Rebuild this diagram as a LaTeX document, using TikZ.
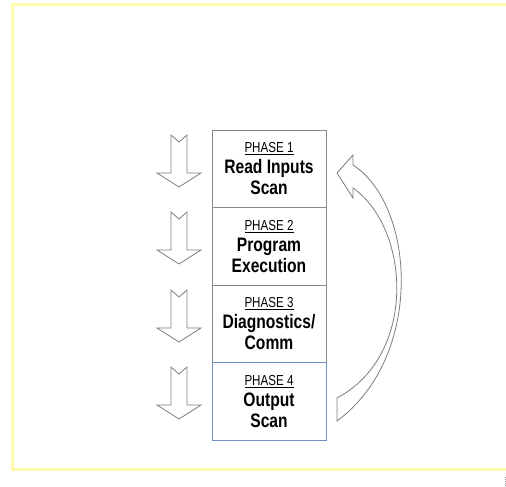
\documentclass[tikz,border=0pt]{standalone}
\usepackage{fontspec}
\setmainfont{Liberation Sans}[FakeStretch=0.8]
\definecolor{frameyellow}{RGB}{255,249,170}
\definecolor{boxgray}{RGB}{135,135,135}
\definecolor{boxblue}{RGB}{110,145,200}
\definecolor{arrowgray}{RGB}{125,125,125}
\tikzset{
  phasebox/.style={draw=boxgray, line width=0.7pt, fill=white,
    minimum width=114pt, minimum height=77.5pt, inner sep=0pt, align=center,
    font=\fontsize{19.5}{21}\selectfont, text=black},
  blockarrow/.style={draw=arrowgray, line width=0.8pt, fill=white, line join=miter},
}
\newcommand{\phasetext}[3]{{\fontsize{14.5}{21}\selectfont\underline{PHASE #1}}\\\textbf{#2}\\\textbf{#3}}
\begin{document}
\begin{tikzpicture}[x=1pt,y=-1pt]
\useasboundingbox (0,0) rectangle (506,487);
% yellow frame
\draw[frameyellow, line width=3pt] (506,5) -- (12,5) -- (12,469) -- (506,469);
\draw[boxgray, line width=1pt, densely dotted] (505,477) -- (505,486);
% boxes
\node[phasebox] (p1) at (269,168.75) {\phasetext{1}{Read Inputs}{Scan}};
\node[phasebox] (p2) at (269,246.25) {\phasetext{2}{Program}{Execution}};
\node[phasebox] (p3) at (269,323.75) {\phasetext{3}{Diagnostics/}{Comm}};
\node[phasebox, draw=boxblue] (p4) at (269,401.25) {\phasetext{4}{Output}{Scan}};
% down block arrows
\foreach \t in {135,212,290,367}{
  \draw[blockarrow] (171,\t) -- (179,\t+7) -- (187,\t) -- (187,\t+38) -- (201,\t+38)
    -- (179,\t+52) -- (157,\t+38) -- (171,\t+38) -- cycle;
}
% curved return arrow
\draw[blockarrow] (337,173) -- (353,155) -- (353,165)
  .. controls (415,205) and (425,356) .. (337,421)
  -- (337,398)
  .. controls (418,355) and (410,228) .. (353,188)
  -- (353,198) -- cycle;
\end{tikzpicture}
\end{document}
